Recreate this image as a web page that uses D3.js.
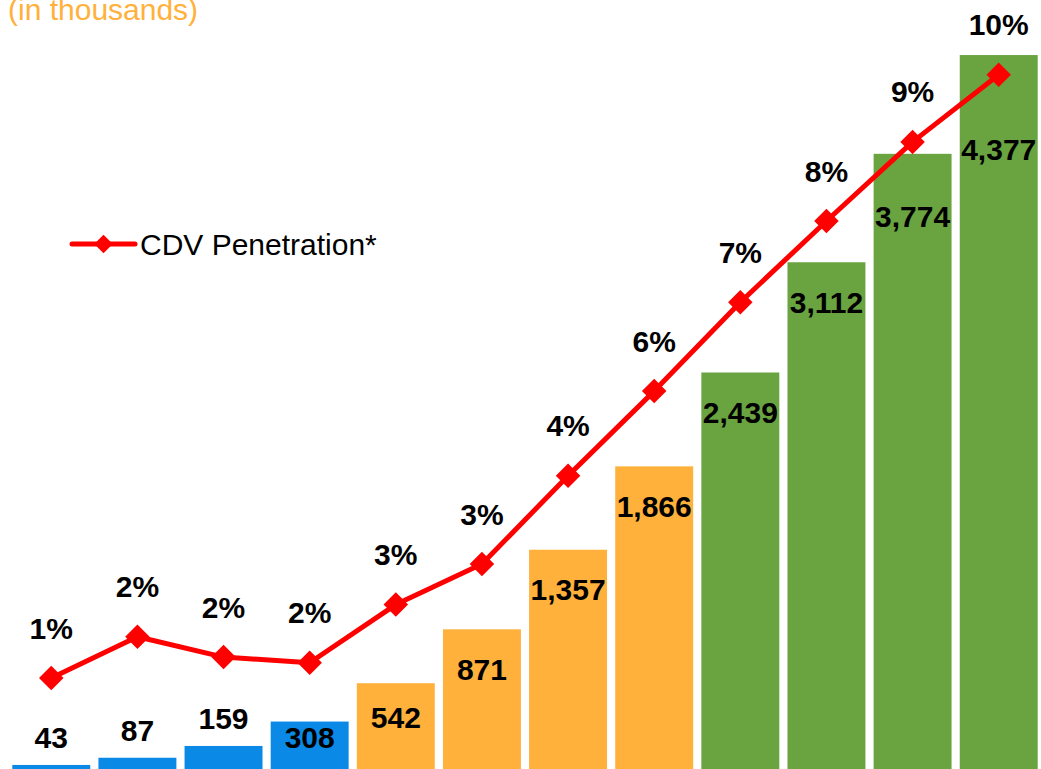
<!DOCTYPE html>
<html>
<head>
<meta charset="utf-8">
<script src="https://cdn.jsdelivr.net/npm/d3@7"></script>
<style>
  html, body { margin: 0; padding: 0; background: #fff; overflow: hidden; }
  svg { display: block; font-family: "Liberation Sans", Arial, sans-serif; }
</style>
</head>
<body>
<script>
'use strict';

// chart data (subscribers in thousands, penetration in %)
const periods = ["P1", "P2", "P3", "P4", "P5", "P6", "P7", "P8", "P9", "P10", "P11", "P12"];
const subscribers = [43, 87, 159, 308, 542, 871, 1357, 1866, 2439, 3112, 3774, 4377];
const penetration = [1.47, 2.06, 1.77, 1.69, 2.52, 3.10, 4.36, 5.57, 6.84, 8.00, 9.13, 10.09];
const phases = ["early", "early", "early", "early", "mid", "mid", "mid", "mid", "late", "late", "late", "late"];
const subtitle = "(in thousands)";
const legendLabel = "CDV Penetration*";

(function() {

  const width = 1041, height = 769;

  const svg = d3.select('body')
    .append('svg')
    .attr('width', width)
    .attr('height', height);

  const rows = periods.map((p, i) => ({
    period: p, subs: subscribers[i], pen: penetration[i], phase: phases[i]
  }));

  // scales
  const x = d3.scaleBand()
    .domain(periods)
    .range([8, 1042])
    .paddingInner(0.095)
    .paddingOuter(0.05);

  const y = d3.scaleLinear()
    .domain([0, 5000])
    .range([772, -47]);

  const yPen = d3.scaleLinear()
    .domain([0, 11])
    .range([781, 11]);

  const color = d3.scaleOrdinal()
    .domain(["early", "mid", "late"])
    .range(["#0A89E6", "#FFB13B", "#6AA441"]);

  const cx = (d) => x(d.period) + x.bandwidth() / 2;
  const fmt = d3.format(",");

  // bars
  svg.selectAll('.bar')
    .data(rows)
    .enter()
    .append('rect')
      .attr('class', 'bar')
      .attr('x', (d) => x(d.period))
      .attr('y', (d) => y(d.subs))
      .attr('width', x.bandwidth())
      .attr('height', (d) => y(0) - y(d.subs))
      .attr('fill', (d) => color(d.phase));

  // bar labels: above short bars, inside the others and kept clear of the line
  svg.selectAll('.barLabel')
    .data(rows)
    .enter()
    .append('text')
      .attr('class', 'barLabel')
      .attr('x', cx)
      .attr('y', (d) => {
        let top = y(d.subs);
        let h = y(0) - top;
        if (h < 40) return top - 27;
        let inside = top + Math.min(40, h / 2 - 10);
        return Math.max(inside, yPen(d.pen) + 75);
      })
      .attr('text-anchor', 'middle')
      .attr('dominant-baseline', 'central')
      .style('font-size', '30px')
      .style('font-weight', 'bold')
      .style('fill', '#000')
      .text((d) => fmt(d.subs));

  // penetration line
  const line = d3.line()
    .x(cx)
    .y((d) => yPen(d.pen));

  svg.append('path')
    .datum(rows)
    .attr('d', line)
    .attr('fill', 'none')
    .attr('stroke', '#FF0000')
    .attr('stroke-width', 5)
    .attr('stroke-linejoin', 'round');

  const diamond = d3.symbol().type(d3.symbolSquare).size(300);

  svg.selectAll('.marker')
    .data(rows)
    .enter()
    .append('path')
      .attr('class', 'marker')
      .attr('d', diamond)
      .attr('transform', (d) => 'translate(' + cx(d) + ',' + yPen(d.pen) + ') rotate(45)')
      .attr('fill', '#FF0000');

  svg.selectAll('.penLabel')
    .data(rows)
    .enter()
    .append('text')
      .attr('class', 'penLabel')
      .attr('x', cx)
      .attr('y', (d) => yPen(d.pen) - 50)
      .attr('text-anchor', 'middle')
      .attr('dominant-baseline', 'central')
      .style('font-size', '30px')
      .style('font-weight', 'bold')
      .style('fill', '#000')
      .text((d) => d3.format(".0f")(d.pen) + '%');

  // subtitle (partly cut off at the top)
  svg.append('text')
    .attr('x', 8)
    .attr('y', 20)
    .style('font-size', '30px')
    .style('fill', '#FFB13B')
    .text(subtitle);

  // legend
  const legend = svg.append('g').attr('transform', 'translate(72, 244)');
  legend.append('line')
    .attr('x1', 0).attr('x2', 63)
    .attr('y1', 0).attr('y2', 0)
    .attr('stroke', '#FF0000')
    .attr('stroke-width', 5)
    .attr('stroke-linecap', 'round');
  legend.append('path')
    .attr('d', d3.symbol().type(d3.symbolSquare).size(170))
    .attr('transform', 'translate(31.5,0) rotate(45)')
    .attr('fill', '#FF0000');
  legend.append('text')
    .attr('x', 68)
    .attr('y', 0)
    .attr('dominant-baseline', 'central')
    .style('font-size', '30px')
    .style('fill', '#000')
    .text(legendLabel);

})();
</script>
</body>
</html>
